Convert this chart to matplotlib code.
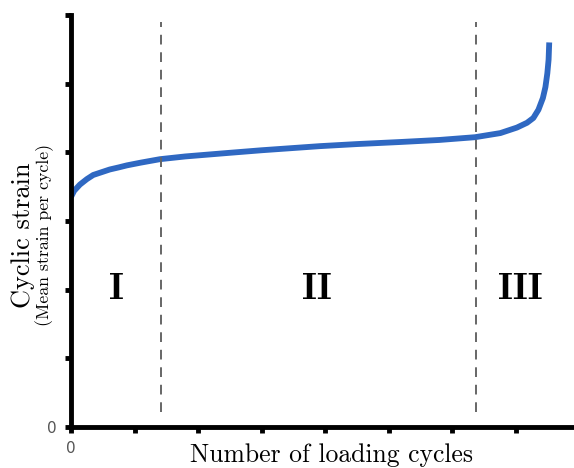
import matplotlib.pyplot as plt

# values (x in tick units, y in tick units)
cycles = [0.0, 0.05, 0.14, 0.25, 0.35, 0.48, 0.61, 0.75, 0.88, 1.10, 1.40, 1.80,
          2.46, 3.00, 3.92, 4.50, 5.18, 5.80, 6.36, 6.76, 7.02, 7.18, 7.28,
          7.36, 7.43, 7.47, 7.50, 7.52, 7.53]
strain = [3.35, 3.44, 3.53, 3.61, 3.67, 3.71, 3.75, 3.78, 3.81, 3.85, 3.90, 3.94,
          3.99, 4.03, 4.09, 4.12, 4.15, 4.18, 4.22, 4.28, 4.36, 4.43, 4.50,
          4.62, 4.79, 4.95, 5.15, 5.35, 5.60]
stage_x = [1.42, 6.37]
stage_labels = ['I', 'II', 'III']
stage_label_x = [0.72, 3.87, 7.07]

fig = plt.figure(figsize=(5.74, 4.68), dpi=100)
ax = fig.add_axes([0.1237, 0.0876, 0.8763, 0.8804])

ax.plot(cycles, strain, color='#2f68c2', lw=4.2, solid_capstyle='butt')

for xs in stage_x:
    ax.plot([xs, xs], [0.22, 5.9], color='#666666', lw=1.4, ls=(0, (5, 4)))

for lab, xl in zip(stage_labels, stage_label_x):
    ax.text(xl, 2.0, lab, fontfamily='cmb10', fontsize=27, ha='center', va='center')

ax.set_xlim(0, 7.92)
ax.set_ylim(0, 6)
ax.set_xticks(range(8))
ax.set_yticks(range(7))
ax.set_xticklabels(['0'] + [''] * 7)
ax.set_yticklabels(['0'] + [''] * 6)

for s in ['top', 'right']:
    ax.spines[s].set_visible(False)
for s in ['left', 'bottom']:
    ax.spines[s].set_linewidth(3.5)
ax.tick_params(direction='out', length=4, width=3.5, colors='black',
               labelcolor='#555555', labelsize=11, pad=6)

# axis titles placed by hand, as in the reference
fig.text(0.577, 0.028, 'Number of loading cycles', fontfamily='cmr10', fontsize=18.5,
         ha='center', va='center')
fig.text(0.040, 0.498, 'Cyclic strain', fontfamily='cmr10', fontsize=19,
         rotation=90, ha='center', va='center')
fig.text(0.078, 0.499, '(Mean strain per cycle)', fontfamily='cmr10', fontsize=12.8,
         rotation=90, ha='center', va='center')

fig.savefig('out.png', dpi=100)
